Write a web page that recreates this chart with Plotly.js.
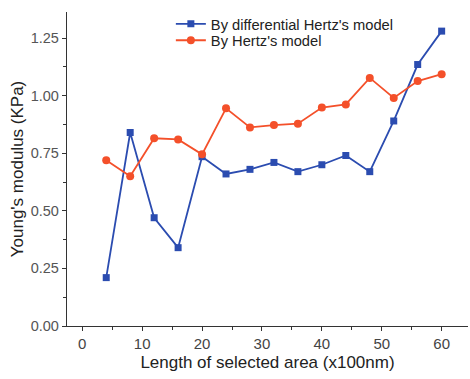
<!DOCTYPE html>
<html>
<head>
<meta charset="utf-8">
<script src="https://cdn.plot.ly/plotly-3.0.1.min.js"></script>
<style>html,body{margin:0;padding:0;background:#fff;}#chart{width:470px;height:379px;}</style>
</head>
<body>
<div id="chart"></div>
<script>
const xLength = [4, 8, 12, 16, 20, 24, 28, 32, 36, 40, 44, 48, 52, 56, 60];
const diffHertz = [0.21, 0.84, 0.47, 0.34, 0.735, 0.66, 0.68, 0.71, 0.67, 0.70, 0.74, 0.67, 0.89, 1.135, 1.28];
const hertz = [0.72, 0.65, 0.815, 0.81, 0.745, 0.945, 0.862, 0.872, 0.878, 0.948, 0.962, 1.077, 0.99, 1.063, 1.093];
const seriesNames = ["By differential Hertz's model", "By Hertz's model"];
const xTicks = [0, 10, 20, 30, 40, 50, 60];
const yTicks = [0, 0.25, 0.5, 0.75, 1.0, 1.25];
const yTickText = ["0.00", "0.25", "0.50", "0.75", "1.00", "1.25"];

const traces = [
  {x: xLength, y: diffHertz, name: seriesNames[0], type: 'scatter', mode: 'lines+markers', legend: 'legend',
   line: {color: '#2B4CB0', width: 1.8}, marker: {symbol: 'square', size: 7, color: '#2B4CB0'}},
  {x: xLength, y: hertz, name: seriesNames[1], type: 'scatter', mode: 'lines+markers', legend: 'legend2',
   line: {color: '#F4502A', width: 1.8}, marker: {symbol: 'circle', size: 8, color: '#F4502A'}}
];

const legendStyle = {xanchor: 'left', yanchor: 'middle', bgcolor: 'rgba(0,0,0,0)',
  font: {size: 14.7, color: '#222'}, itemwidth: 30};

const layout = {
  width: 470, height: 379,
  margin: {l: 67, r: 2, t: 12, b: 53},
  paper_bgcolor: '#fff', plot_bgcolor: '#fff',
  font: {family: 'Liberation Sans, Arial, sans-serif', size: 14, color: '#333'},
  showlegend: true,
  legend: Object.assign({x: 0.259, y: 0.961}, legendStyle),
  legend2: Object.assign({x: 0.259, y: 0.9086}, legendStyle),
  xaxis: {
    range: [-2.55, 64.4], tickmode: 'array', tickvals: xTicks,
    ticks: 'outside', ticklen: 4, tickcolor: '#333', showline: true, linecolor: '#333', linewidth: 1.2,
    showgrid: false, zeroline: false,
    minor: {dtick: 5, tick0: 0, ticks: 'outside', ticklen: 3, tickcolor: '#333', showgrid: false},
    tickfont: {size: 15, color: '#444'},
    title: {text: 'Length of selected area (x100nm)', font: {size: 17, color: '#222'}, standoff: 4}
  },
  yaxis: {
    range: [0, 1.363], tickmode: 'array', tickvals: yTicks, ticktext: yTickText,
    ticks: 'outside', ticklen: 4, tickcolor: '#333', showline: true, linecolor: '#333', linewidth: 1.2,
    showgrid: false, zeroline: false,
    minor: {dtick: 0.125, tick0: 0, ticks: 'outside', ticklen: 3, tickcolor: '#333', showgrid: false},
    tickfont: {size: 14.5, color: '#555'},
    title: {text: "Young's modulus (KPa)", font: {size: 17, color: '#222'}, standoff: 2}
  }
};

Plotly.newPlot('chart', traces, layout, {staticPlot: true, displayModeBar: false});
</script>
</body>
</html>
